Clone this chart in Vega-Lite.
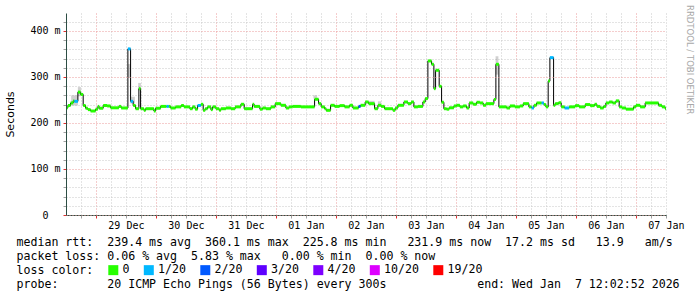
{
  "$schema": "https://vega.github.io/schema/vega-lite/v6.json",
  "width": 600,
  "height": 202,
  "autosize": {"type": "none"},
  "padding": {"left": 66, "top": 13, "right": 31, "bottom": 82},
  "background": "white",
  "config": {
    "view": {"stroke": null},
    "font": "DejaVu Sans Mono"
  },
  "title": {
    "text": "RRDTOOL / TOBI OETIKER",
    "orient": "right",
    "anchor": "start",
    "font": "DejaVu Sans",
    "fontSize": 8.5,
    "fontWeight": "normal",
    "color": "#a8a8a8",
    "offset": 2,
    "dx": -8
  },
  "resolve": {"axis": {"y": "independent"}},
  "datasets": {
    "median": [
      {"t": "2025-12-28T12:02:52Z", "rtt": 233, "loss": "0"},
      {"t": "2025-12-28T12:48:00Z", "rtt": 238, "loss": "0"},
      {"t": "2025-12-28T13:53:00Z", "rtt": 243.5, "loss": "0"},
      {"t": "2025-12-28T14:55:00Z", "rtt": 248, "loss": "0"},
      {"t": "2025-12-28T15:24:00Z", "rtt": 247, "loss": "1/20"},
      {"t": "2025-12-28T16:48:00Z", "rtt": 267, "loss": "0"},
      {"t": "2025-12-28T17:53:00Z", "rtt": 262, "loss": "0"},
      {"t": "2025-12-28T18:55:00Z", "rtt": 238, "loss": "0"},
      {"t": "2025-12-28T19:53:00Z", "rtt": 232, "loss": "0"},
      {"t": "2025-12-28T20:48:00Z", "rtt": 229, "loss": "0"},
      {"t": "2025-12-28T21:53:00Z", "rtt": 226, "loss": "0"},
      {"t": "2025-12-28T23:53:00Z", "rtt": 230, "loss": "0"},
      {"t": "2025-12-29T00:48:00Z", "rtt": 236, "loss": "0"},
      {"t": "2025-12-29T01:19:00Z", "rtt": 232, "loss": "0"},
      {"t": "2025-12-29T02:55:00Z", "rtt": 238, "loss": "0"},
      {"t": "2025-12-29T04:31:00Z", "rtt": 237, "loss": "0"},
      {"t": "2025-12-29T05:53:00Z", "rtt": 233, "loss": "0"},
      {"t": "2025-12-29T09:12:00Z", "rtt": 236, "loss": "0"},
      {"t": "2025-12-29T10:07:00Z", "rtt": 232.6, "loss": "0"},
      {"t": "2025-12-29T12:48:00Z", "rtt": 361, "loss": "1/20"},
      {"t": "2025-12-29T13:53:00Z", "rtt": 247, "loss": "1/20"},
      {"t": "2025-12-29T14:55:00Z", "rtt": 238, "loss": "0"},
      {"t": "2025-12-29T15:53:00Z", "rtt": 231, "loss": "0"},
      {"t": "2025-12-29T17:12:00Z", "rtt": 274.6, "loss": "0"},
      {"t": "2025-12-29T17:53:00Z", "rtt": 231, "loss": "0"},
      {"t": "2025-12-29T19:12:00Z", "rtt": 227.5, "loss": "0"},
      {"t": "2025-12-29T19:53:00Z", "rtt": 231, "loss": "0"},
      {"t": "2025-12-29T23:12:00Z", "rtt": 226, "loss": "0"},
      {"t": "2025-12-29T23:53:00Z", "rtt": 232, "loss": "0"},
      {"t": "2025-12-30T01:53:00Z", "rtt": 236, "loss": "0"},
      {"t": "2025-12-30T04:17:00Z", "rtt": 236, "loss": "1/20"},
      {"t": "2025-12-30T05:12:00Z", "rtt": 236, "loss": "0"},
      {"t": "2025-12-30T05:53:00Z", "rtt": 232.6, "loss": "0"},
      {"t": "2025-12-30T07:53:00Z", "rtt": 235, "loss": "0"},
      {"t": "2025-12-30T10:07:00Z", "rtt": 238, "loss": "0"},
      {"t": "2025-12-30T11:12:00Z", "rtt": 235, "loss": "0"},
      {"t": "2025-12-30T13:36:00Z", "rtt": 231, "loss": "0"},
      {"t": "2025-12-30T14:41:00Z", "rtt": 235, "loss": "0"},
      {"t": "2025-12-30T15:43:00Z", "rtt": 230, "loss": "0"},
      {"t": "2025-12-30T16:41:00Z", "rtt": 238, "loss": "1/20"},
      {"t": "2025-12-30T18:00:00Z", "rtt": 240.6, "loss": "0"},
      {"t": "2025-12-30T18:55:00Z", "rtt": 227.5, "loss": "0"},
      {"t": "2025-12-30T19:43:00Z", "rtt": 231, "loss": "0"},
      {"t": "2025-12-30T20:41:00Z", "rtt": 235, "loss": "0"},
      {"t": "2025-12-30T22:00:00Z", "rtt": 229, "loss": "0"},
      {"t": "2025-12-30T22:41:00Z", "rtt": 235, "loss": "0"},
      {"t": "2025-12-31T00:00:00Z", "rtt": 231, "loss": "0"},
      {"t": "2025-12-31T01:19:00Z", "rtt": 227.5, "loss": "0"},
      {"t": "2025-12-31T02:00:00Z", "rtt": 231, "loss": "0"},
      {"t": "2025-12-31T04:00:00Z", "rtt": 232.6, "loss": "0"},
      {"t": "2025-12-31T06:00:00Z", "rtt": 231, "loss": "0"},
      {"t": "2025-12-31T07:43:00Z", "rtt": 235, "loss": "0"},
      {"t": "2025-12-31T10:00:00Z", "rtt": 240.6, "loss": "0"},
      {"t": "2025-12-31T11:19:00Z", "rtt": 231, "loss": "0"},
      {"t": "2025-12-31T14:41:00Z", "rtt": 240.6, "loss": "0"},
      {"t": "2025-12-31T15:19:00Z", "rtt": 236, "loss": "0"},
      {"t": "2025-12-31T17:36:00Z", "rtt": 230, "loss": "0"},
      {"t": "2025-12-31T18:41:00Z", "rtt": 232.6, "loss": "0"},
      {"t": "2025-12-31T20:00:00Z", "rtt": 231, "loss": "0"},
      {"t": "2025-12-31T22:00:00Z", "rtt": 235, "loss": "0"},
      {"t": "2025-12-31T23:43:00Z", "rtt": 242, "loss": "0"},
      {"t": "2026-01-01T02:00:00Z", "rtt": 238.4, "loss": "0"},
      {"t": "2026-01-01T04:00:00Z", "rtt": 232.6, "loss": "0"},
      {"t": "2026-01-01T05:19:00Z", "rtt": 235, "loss": "0"},
      {"t": "2026-01-01T06:41:00Z", "rtt": 236, "loss": "0"},
      {"t": "2026-01-01T10:00:00Z", "rtt": 235, "loss": "0"},
      {"t": "2026-01-01T15:29:00Z", "rtt": 251.5, "loss": "0"},
      {"t": "2026-01-01T17:05:00Z", "rtt": 242, "loss": "0"},
      {"t": "2026-01-01T18:07:00Z", "rtt": 235, "loss": "0"},
      {"t": "2026-01-01T19:29:00Z", "rtt": 231, "loss": "0"},
      {"t": "2026-01-01T20:07:00Z", "rtt": 227.5, "loss": "0"},
      {"t": "2026-01-01T21:53:00Z", "rtt": 238.4, "loss": "0"},
      {"t": "2026-01-01T23:29:00Z", "rtt": 236, "loss": "0"},
      {"t": "2026-01-02T01:29:00Z", "rtt": 237.7, "loss": "0"},
      {"t": "2026-01-02T03:29:00Z", "rtt": 235, "loss": "0"},
      {"t": "2026-01-02T05:29:00Z", "rtt": 238.4, "loss": "0"},
      {"t": "2026-01-02T06:48:00Z", "rtt": 232.6, "loss": "0"},
      {"t": "2026-01-02T09:05:00Z", "rtt": 236, "loss": "2/20"},
      {"t": "2026-01-02T09:53:00Z", "rtt": 238.4, "loss": "0"},
      {"t": "2026-01-02T11:43:00Z", "rtt": 245.6, "loss": "0"},
      {"t": "2026-01-02T13:05:00Z", "rtt": 242, "loss": "0"},
      {"t": "2026-01-02T15:29:00Z", "rtt": 231, "loss": "0"},
      {"t": "2026-01-02T16:48:00Z", "rtt": 238.4, "loss": "0"},
      {"t": "2026-01-02T18:07:00Z", "rtt": 236, "loss": "0"},
      {"t": "2026-01-02T19:29:00Z", "rtt": 231, "loss": "0"},
      {"t": "2026-01-02T22:48:00Z", "rtt": 227.5, "loss": "0"},
      {"t": "2026-01-02T23:43:00Z", "rtt": 232.6, "loss": "0"},
      {"t": "2026-01-03T00:48:00Z", "rtt": 238.4, "loss": "0"},
      {"t": "2026-01-03T03:12:00Z", "rtt": 245.6, "loss": "0"},
      {"t": "2026-01-03T04:48:00Z", "rtt": 242, "loss": "0"},
      {"t": "2026-01-03T06:07:00Z", "rtt": 245.6, "loss": "0"},
      {"t": "2026-01-03T07:12:00Z", "rtt": 235, "loss": "0"},
      {"t": "2026-01-03T08:48:00Z", "rtt": 236, "loss": "0"},
      {"t": "2026-01-03T10:48:00Z", "rtt": 245.6, "loss": "0"},
      {"t": "2026-01-03T11:43:00Z", "rtt": 253, "loss": "0"},
      {"t": "2026-01-03T12:48:00Z", "rtt": 334.8, "loss": "0"},
      {"t": "2026-01-03T14:17:00Z", "rtt": 327.5, "loss": "0"},
      {"t": "2026-01-03T15:12:00Z", "rtt": 274.6, "loss": "0"},
      {"t": "2026-01-03T15:53:00Z", "rtt": 314.5, "loss": "0"},
      {"t": "2026-01-03T17:19:00Z", "rtt": 279.7, "loss": "0"},
      {"t": "2026-01-03T18:17:00Z", "rtt": 245, "loss": "0"},
      {"t": "2026-01-03T19:12:00Z", "rtt": 231, "loss": "0"},
      {"t": "2026-01-03T20:17:00Z", "rtt": 230, "loss": "0"},
      {"t": "2026-01-03T21:19:00Z", "rtt": 233, "loss": "0"},
      {"t": "2026-01-03T23:12:00Z", "rtt": 237, "loss": "0"},
      {"t": "2026-01-04T00:17:00Z", "rtt": 238.4, "loss": "0"},
      {"t": "2026-01-04T01:36:00Z", "rtt": 235, "loss": "0"},
      {"t": "2026-01-04T02:55:00Z", "rtt": 237, "loss": "0"},
      {"t": "2026-01-04T04:17:00Z", "rtt": 232.6, "loss": "0"},
      {"t": "2026-01-04T05:19:00Z", "rtt": 243.5, "loss": "0"},
      {"t": "2026-01-04T06:55:00Z", "rtt": 240.6, "loss": "0"},
      {"t": "2026-01-04T08:17:00Z", "rtt": 245, "loss": "0"},
      {"t": "2026-01-04T09:36:00Z", "rtt": 243.5, "loss": "0"},
      {"t": "2026-01-04T10:55:00Z", "rtt": 238.4, "loss": "0"},
      {"t": "2026-01-04T12:00:00Z", "rtt": 242, "loss": "0"},
      {"t": "2026-01-04T15:12:00Z", "rtt": 251, "loss": "0"},
      {"t": "2026-01-04T16:00:00Z", "rtt": 327.5, "loss": "0"},
      {"t": "2026-01-04T17:12:00Z", "rtt": 235, "loss": "0"},
      {"t": "2026-01-04T20:17:00Z", "rtt": 232.6, "loss": "0"},
      {"t": "2026-01-04T21:36:00Z", "rtt": 237, "loss": "0"},
      {"t": "2026-01-04T23:36:00Z", "rtt": 235, "loss": "0"},
      {"t": "2026-01-05T01:36:00Z", "rtt": 237, "loss": "0"},
      {"t": "2026-01-05T02:55:00Z", "rtt": 242, "loss": "0"},
      {"t": "2026-01-05T05:12:00Z", "rtt": 235, "loss": "0"},
      {"t": "2026-01-05T06:17:00Z", "rtt": 232.6, "loss": "1/20"},
      {"t": "2026-01-05T07:12:00Z", "rtt": 238.4, "loss": "0"},
      {"t": "2026-01-05T08:17:00Z", "rtt": 243.5, "loss": "0"},
      {"t": "2026-01-05T10:17:00Z", "rtt": 243.5, "loss": "1/20"},
      {"t": "2026-01-05T11:12:00Z", "rtt": 240, "loss": "0"},
      {"t": "2026-01-05T12:00:00Z", "rtt": 235, "loss": "0"},
      {"t": "2026-01-05T12:55:00Z", "rtt": 291, "loss": "0"},
      {"t": "2026-01-05T13:36:00Z", "rtt": 342, "loss": "1/20"},
      {"t": "2026-01-05T15:05:00Z", "rtt": 238.4, "loss": "0"},
      {"t": "2026-01-05T15:43:00Z", "rtt": 242, "loss": "0"},
      {"t": "2026-01-05T17:05:00Z", "rtt": 244, "loss": "0"},
      {"t": "2026-01-05T18:07:00Z", "rtt": 235, "loss": "0"},
      {"t": "2026-01-05T19:29:00Z", "rtt": 232.6, "loss": "1/20"},
      {"t": "2026-01-05T21:19:00Z", "rtt": 235, "loss": "0"},
      {"t": "2026-01-05T23:43:00Z", "rtt": 237.7, "loss": "0"},
      {"t": "2026-01-06T01:19:00Z", "rtt": 235, "loss": "0"},
      {"t": "2026-01-06T03:43:00Z", "rtt": 240, "loss": "0"},
      {"t": "2026-01-06T05:43:00Z", "rtt": 237.7, "loss": "0"},
      {"t": "2026-01-06T07:29:00Z", "rtt": 240.6, "loss": "0"},
      {"t": "2026-01-06T08:24:00Z", "rtt": 236, "loss": "0"},
      {"t": "2026-01-06T09:43:00Z", "rtt": 232.6, "loss": "0"},
      {"t": "2026-01-06T11:05:00Z", "rtt": 236, "loss": "0"},
      {"t": "2026-01-06T12:00:00Z", "rtt": 243.5, "loss": "0"},
      {"t": "2026-01-06T13:19:00Z", "rtt": 245.6, "loss": "0"},
      {"t": "2026-01-06T14:41:00Z", "rtt": 243.5, "loss": "0"},
      {"t": "2026-01-06T16:00:00Z", "rtt": 248, "loss": "0"},
      {"t": "2026-01-06T17:19:00Z", "rtt": 235, "loss": "0"},
      {"t": "2026-01-06T18:24:00Z", "rtt": 232.6, "loss": "0"},
      {"t": "2026-01-06T20:00:00Z", "rtt": 230, "loss": "0"},
      {"t": "2026-01-06T23:05:00Z", "rtt": 235, "loss": "0"},
      {"t": "2026-01-07T00:00:00Z", "rtt": 238.4, "loss": "0"},
      {"t": "2026-01-07T01:43:00Z", "rtt": 235, "loss": "0"},
      {"t": "2026-01-07T03:43:00Z", "rtt": 243.5, "loss": "0"},
      {"t": "2026-01-07T09:05:00Z", "rtt": 238.4, "loss": "0"},
      {"t": "2026-01-07T10:24:00Z", "rtt": 235, "loss": "0"},
      {"t": "2026-01-07T11:43:00Z", "rtt": 231, "loss": "0"},
      {"t": "2026-01-07T12:02:52Z", "rtt": 231, "loss": "0"}
    ],
    "smoke": [
      {"t": "2025-12-28T14:07:00Z", "t2": "2025-12-28T16:48:00Z", "lo": 238, "hi": 260},
      {"t": "2025-12-28T16:48:00Z", "t2": "2025-12-28T18:00:00Z", "lo": 258, "hi": 278},
      {"t": "2025-12-29T12:48:00Z", "t2": "2025-12-29T13:53:00Z", "lo": 298, "hi": 328},
      {"t": "2025-12-29T13:53:00Z", "t2": "2025-12-29T15:36:00Z", "lo": 242, "hi": 257},
      {"t": "2025-12-29T16:55:00Z", "t2": "2025-12-29T18:00:00Z", "lo": 271, "hi": 287},
      {"t": "2026-01-01T15:00:00Z", "t2": "2026-01-01T16:30:00Z", "lo": 253, "hi": 260},
      {"t": "2026-01-02T13:05:00Z", "t2": "2026-01-02T15:29:00Z", "lo": 242, "hi": 248},
      {"t": "2026-01-02T16:48:00Z", "t2": "2026-01-02T18:07:00Z", "lo": 240, "hi": 247},
      {"t": "2026-01-04T15:53:00Z", "t2": "2026-01-04T17:00:00Z", "lo": 305, "hi": 345}
    ]
  },
  "layer": [
    {
      "data": {"name": "smoke"},
      "mark": {"type": "rect", "color": "#777777", "opacity": 0.35, "clip": true},
      "encoding": {
        "x": {
          "field": "t",
          "type": "temporal",
          "scale": {"type": "utc", "domain": ["2025-12-28T12:02:52Z", "2026-01-07T12:02:52Z"]},
          "axis": {
            "title": [
              "median rtt:\u00a0\u00a0239.4 ms avg\u00a0\u00a0360.1 ms max\u00a0\u00a0225.8 ms min\u00a0\u00a0\u00a0231.9 ms now\u00a0\u00a017.2 ms sd\u00a0\u00a0\u00a013.9\u00a0\u00a0\u00a0am/s",
              "packet loss: 0.06 % avg\u00a0\u00a05.83 % max\u00a0\u00a0\u00a00.00 % min\u00a0\u00a00.00 % now",
              "loss color:",
              "probe:\u00a0\u00a0\u00a0\u00a0\u00a0\u00a0\u00a020 ICMP Echo Pings (56 Bytes) every 300s\u00a0\u00a0\u00a0\u00a0\u00a0\u00a0\u00a0\u00a0\u00a0\u00a0\u00a0\u00a0\u00a0end: Wed Jan\u00a0\u00a07 12:02:52 2026"
            ],
            "titleX": -50,
            "titleY": 30.5,
            "titleAlign": "left",
            "titleAngle": 0,
            "titleBaseline": "alphabetic",
            "titleFont": "DejaVu Sans Mono",
            "titleFontSize": 11.6,
            "titleFontWeight": "normal",
            "titleLineHeight": 14,
            "titleColor": "#000000",
            "tickCount": 40,
            "labelExpr": "utchours(datum.value) == 12 ? utcFormat(datum.value, '%d %b') : ''",
            "labelFont": "DejaVu Sans Mono",
            "labelFontSize": 10,
            "labelColor": "#000000",
            "labelOverlap": false,
            "labelFlush": false,
            "labelPadding": 2.5,
            "tickSize": 3,
            "tickColor": {"condition": {"test": "utchours(datum.value) == 0", "value": "#de3030"}, "value": "#a0a0a0"},
            "grid": true,
            "gridColor": {"condition": {"test": "utchours(datum.value) == 0", "value": "#eb9a9a"}, "value": "#c8c8c8"},
            "gridDash": [1, 2],
            "domainColor": "#2c4d43"
          }
        },
        "x2": {"field": "t2"},
        "y": {
          "field": "lo",
          "type": "quantitative",
          "scale": {"domain": [0, 439], "nice": false, "zero": true},
          "axis": {
            "orient": "left",
            "values": [0, 100, 200, 300, 400],
            "title": "Seconds",
            "titleFont": "DejaVu Sans",
            "titleFontSize": 11,
            "titleFontWeight": "normal",
            "titleColor": "#000000",
            "titleAngle": -90,
            "titleX": -56,
            "titleY": 101,
            "titleAlign": "center",
            "titleBaseline": "middle",
            "labelExpr": "datum.value == 0 ? '0' : datum.value + ' m'",
            "labelFont": "DejaVu Sans Mono",
            "labelFontSize": 10,
            "labelColor": "#000000",
            "labelOverlap": false,
            "labelPadding": {"condition": {"test": "datum.value == 0", "value": 15}, "value": 3},
            "tickSize": 3,
            "tickColor": "#de3030",
            "grid": true,
            "gridColor": "#eb9a9a",
            "gridDash": [1, 2],
            "domainColor": "#2c4d43",
            "zindex": 1
          }
        },
        "y2": {"field": "hi"}
      }
    },
    {
      "data": {"name": "median"},
      "mark": {"type": "line", "interpolate": "step-after", "color": "#000000", "strokeWidth": 1, "clip": true},
      "encoding": {
        "x": {"field": "t", "type": "temporal"},
        "y": {
          "field": "rtt",
          "type": "quantitative",
          "axis": {
            "orient": "left",
            "values": [20, 40, 60, 80, 120, 140, 160, 180, 220, 240, 260, 280, 320, 340, 360, 380, 420],
            "title": null,
            "labels": false,
            "domain": false,
            "tickSize": 3,
            "tickColor": "#a0a0a0",
            "grid": true,
            "gridColor": "#c8c8c8",
            "gridDash": [1, 2],
            "zindex": 0
          }
        }
      }
    },
    {
      "data": {"name": "median"},
      "transform": [
        {"window": [{"op": "lead", "field": "t", "as": "t2"}], "sort": [{"field": "t", "order": "ascending"}]},
        {"filter": "datum.t2 != null"}
      ],
      "mark": {"type": "rule", "strokeWidth": 3, "strokeCap": "butt", "clip": true},
      "encoding": {
        "x": {"field": "t", "type": "temporal"},
        "x2": {"field": "t2"},
        "y": {"field": "rtt", "type": "quantitative", "axis": null},
        "color": {
          "field": "loss",
          "type": "nominal",
          "scale": {
            "domain": ["0", "1/20", "2/20", "3/20", "4/20", "10/20", "19/20"],
            "range": ["#26ff00", "#00b8ff", "#0059ff", "#5e00ff", "#7e00ff", "#dd00ff", "#ff0000"]
          },
          "legend": {
            "orient": "none",
            "legendX": 41.5,
            "legendY": 251,
            "direction": "horizontal",
            "title": null,
            "symbolType": "square",
            "symbolSize": 25,
            "symbolStrokeWidth": 5,
            "labelFont": "DejaVu Sans Mono",
            "labelFontSize": 11.6,
            "labelColor": "#000000",
            "labelOffset": 3.5,
            "columnPadding": 5.5
          }
        }
      }
    }
  ]
}
